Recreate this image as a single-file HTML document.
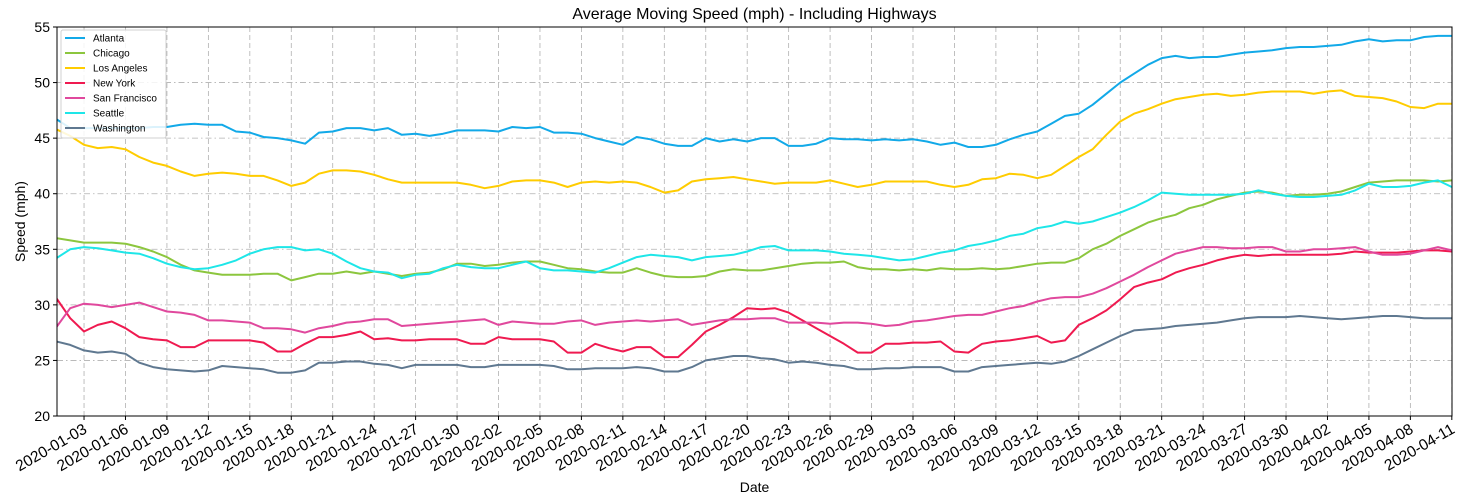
<!DOCTYPE html>
<html><head><meta charset="utf-8"><style>
body{margin:0;background:#fff;}
svg{display:block;font-family:"Liberation Sans","DejaVu Sans",sans-serif;}
</style></head><body>
<svg id="s" width="1458" height="501" xmlns="http://www.w3.org/2000/svg"></svg>
<script>
const D={
"Atlanta":["#12a9e8",[46.7,45.9,45.9,45.9,45.9,45.9,45.9,46.0,46.0,46.2,46.3,46.2,46.2,45.6,45.5,45.1,45.0,44.8,44.5,45.5,45.6,45.9,45.9,45.7,45.9,45.3,45.4,45.2,45.4,45.7,45.7,45.7,45.6,46.0,45.9,46.0,45.5,45.5,45.4,45.0,44.7,44.4,45.1,44.9,44.5,44.3,44.3,45.0,44.7,44.9,44.7,45.0,45.0,44.3,44.3,44.5,45.0,44.9,44.9,44.8,44.9,44.8,44.9,44.7,44.4,44.6,44.2,44.2,44.4,44.9,45.3,45.6,46.3,47.0,47.2,48.0,49.0,50.0,50.8,51.6,52.2,52.4,52.2,52.3,52.3,52.5,52.7,52.8,52.9,53.1,53.2,53.2,53.3,53.4,53.7,53.9,53.7,53.8,53.8,54.1,54.2,54.2,54.0]],
"Chicago":["#8cc63e",[36.0,35.8,35.6,35.6,35.6,35.5,35.2,34.8,34.3,33.6,33.1,32.9,32.7,32.7,32.7,32.8,32.8,32.2,32.5,32.8,32.8,33.0,32.8,33.0,32.8,32.6,32.8,32.9,33.2,33.7,33.7,33.5,33.6,33.8,33.9,33.9,33.6,33.3,33.2,33.0,32.9,32.9,33.3,32.9,32.6,32.5,32.5,32.6,33.0,33.2,33.1,33.1,33.3,33.5,33.7,33.8,33.8,33.9,33.4,33.2,33.2,33.1,33.2,33.1,33.3,33.2,33.2,33.3,33.2,33.3,33.5,33.7,33.8,33.8,34.2,35.0,35.5,36.2,36.8,37.4,37.8,38.1,38.7,39.0,39.5,39.8,40.1,40.2,40.1,39.8,39.9,39.9,40.0,40.2,40.6,41.0,41.1,41.2,41.2,41.2,41.1,41.2]],
"Los Angeles":["#ffcc00",[45.8,45.2,44.4,44.1,44.2,44.0,43.3,42.8,42.5,42.0,41.6,41.8,41.9,41.8,41.6,41.6,41.2,40.7,41.0,41.8,42.1,42.1,42.0,41.7,41.3,41.0,41.0,41.0,41.0,41.0,40.8,40.5,40.7,41.1,41.2,41.2,41.0,40.6,41.0,41.1,41.0,41.1,41.0,40.6,40.1,40.3,41.1,41.3,41.4,41.5,41.3,41.1,40.9,41.0,41.0,41.0,41.2,40.9,40.6,40.8,41.1,41.1,41.1,41.1,40.8,40.6,40.8,41.3,41.4,41.8,41.7,41.4,41.7,42.5,43.3,44.0,45.3,46.5,47.2,47.6,48.1,48.5,48.7,48.9,49.0,48.8,48.9,49.1,49.2,49.2,49.2,49.0,49.2,49.3,48.8,48.7,48.6,48.3,47.8,47.7,48.1,48.1].slice(0,102)],
"New York":["#ef1a50",[30.6,28.8,27.6,28.2,28.5,27.9,27.1,26.9,26.8,26.2,26.2,26.8,26.8,26.8,26.8,26.6,25.8,25.8,26.5,27.1,27.1,27.3,27.6,26.9,27.0,26.8,26.8,26.9,26.9,26.9,26.5,26.5,27.1,26.9,26.9,26.9,26.7,25.7,25.7,26.5,26.1,25.8,26.2,26.2,25.3,25.3,26.4,27.6,28.2,28.9,29.7,29.6,29.7,29.3,28.6,27.9,27.2,26.5,25.7,25.7,26.5,26.5,26.6,26.6,26.7,25.8,25.7,26.5,26.7,26.8,27.0,27.2,26.6,26.8,28.2,28.8,29.5,30.5,31.6,32.0,32.3,32.9,33.3,33.6,34.0,34.3,34.5,34.4,34.5,34.5,34.5,34.5,34.5,34.6,34.8,34.7,34.7,34.7,34.8,34.9,34.9,34.8]],
"San Francisco":["#e0489d",[28.0,29.7,30.1,30.0,29.8,30.0,30.2,29.8,29.4,29.3,29.1,28.6,28.6,28.5,28.4,27.9,27.9,27.8,27.5,27.9,28.1,28.4,28.5,28.7,28.7,28.1,28.2,28.3,28.4,28.5,28.6,28.7,28.2,28.5,28.4,28.3,28.3,28.5,28.6,28.2,28.4,28.5,28.6,28.5,28.6,28.7,28.2,28.4,28.6,28.7,28.7,28.8,28.8,28.4,28.4,28.4,28.3,28.4,28.4,28.3,28.1,28.2,28.5,28.6,28.8,29.0,29.1,29.1,29.4,29.7,29.9,30.3,30.6,30.7,30.7,31.0,31.5,32.1,32.7,33.4,34.0,34.6,34.9,35.2,35.2,35.1,35.1,35.2,35.2,34.8,34.8,35.0,35.0,35.1,35.2,34.8,34.5,34.5,34.6,34.9,35.2,34.9]],
"Seattle":["#1ee6e8",[34.2,35.0,35.2,35.1,34.9,34.7,34.6,34.2,33.7,33.4,33.2,33.3,33.6,34.0,34.6,35.0,35.2,35.2,34.9,35.0,34.6,33.9,33.3,33.0,32.9,32.4,32.7,32.8,33.3,33.6,33.4,33.3,33.3,33.6,33.9,33.3,33.1,33.1,33.0,32.9,33.3,33.8,34.3,34.5,34.4,34.3,34.0,34.3,34.4,34.5,34.8,35.2,35.3,34.9,34.9,34.9,34.8,34.6,34.5,34.4,34.2,34.0,34.1,34.4,34.7,34.9,35.3,35.5,35.8,36.2,36.4,36.9,37.1,37.5,37.3,37.5,37.9,38.3,38.8,39.4,40.1,40.0,39.9,39.9,39.9,39.9,40.0,40.3,40.0,39.8,39.7,39.7,39.8,39.9,40.3,40.9,40.6,40.6,40.7,41.0,41.2,40.6]],
"Washington":["#5f7890",[26.7,26.4,25.9,25.7,25.8,25.6,24.8,24.4,24.2,24.1,24.0,24.1,24.5,24.4,24.3,24.2,23.9,23.9,24.1,24.8,24.8,24.9,24.9,24.7,24.6,24.3,24.6,24.6,24.6,24.6,24.4,24.4,24.6,24.6,24.6,24.6,24.5,24.2,24.2,24.3,24.3,24.3,24.4,24.3,24.0,24.0,24.4,25.0,25.2,25.4,25.4,25.2,25.1,24.8,24.9,24.8,24.6,24.5,24.2,24.2,24.3,24.3,24.4,24.4,24.4,24.0,24.0,24.4,24.5,24.6,24.7,24.8,24.7,24.9,25.4,26.0,26.6,27.2,27.7,27.8,27.9,28.1,28.2,28.3,28.4,28.6,28.8,28.9,28.9,28.9,29.0,28.9,28.8,28.7,28.8,28.9,29.0,29.0,28.9,28.8,28.8,28.8]]
};
const L=57,R=1452,T=27,B=416,X0=56.4,DX=13.816;
const Y=v=>T+(55-v)*(B-T)/35, X=i=>X0+DX*i;
let h='';
h+=`<defs><clipPath id="c"><rect x="${L}" y="${T}" width="${R-L}" height="${B-T}"/></clipPath></defs>`;
for(let v=20;v<=55;v+=5){const y=Y(v);h+=`<line x1="${L}" x2="${R}" y1="${y}" y2="${y}" stroke="#b0b0b0" stroke-width="0.8" stroke-dasharray="6,3,1.5,3"/>`;
h+=`<line x1="${L-4}" x2="${L}" y1="${y}" y2="${y}" stroke="#000"/><text x="${L-7}" y="${y+5}" font-size="14" text-anchor="end">${v}</text>`;}
const months=[31,29,31,30];
function lab(i){let d=i+1,m=0;while(d>months[m]){d-=months[m];m++;}return `2020-${String(m+1).padStart(2,'0')}-${String(d).padStart(2,'0')}`;}
for(let i=2;i<=101;i+=3){const x=X(i);h+=`<line x1="${x}" x2="${x}" y1="${B}" y2="${B+4}" stroke="#000"/><line x1="${x}" x2="${x}" y1="${T}" y2="${B}" stroke="#b0b0b0" stroke-width="0.8" stroke-dasharray="5,3"/>`;
h+=`<text transform="translate(${x+4},${B+16}) rotate(-30)" font-size="15.5" text-anchor="end">${lab(i)}</text>`;}
h+=`<g clip-path="url(#c)">`;
for(const k in D){const [c,a]=D[k];h+=`<polyline fill="none" stroke="${c}" stroke-width="2" stroke-linejoin="round" points="${a.map((v,i)=>X(i).toFixed(1)+','+Y(v).toFixed(1)).join(' ')}"/>`;}
h+=`</g><rect x="${L}" y="${T}" width="${R-L}" height="${B-T}" fill="none" stroke="#000" stroke-width="1"/>`;
h+=`<text x="${(L+R)/2}" y="19" font-size="16" text-anchor="middle">Average Moving Speed (mph) - Including Highways</text>`;
h+=`<text x="${(L+R)/2}" y="492" font-size="14" text-anchor="middle">Date</text>`;
h+=`<text transform="translate(25,${(T+B)/2}) rotate(-90)" font-size="14" text-anchor="middle">Speed (mph)</text>`;
h+=`<rect x="61" y="30" width="105" height="108" rx="2" fill="#fff" fill-opacity="0.85" stroke="#d0d0d0"/>`;
let j=0;for(const k in D){const y=38+j*15;h+=`<line x1="65" x2="85" y1="${y}" y2="${y}" stroke="${D[k][0]}" stroke-width="2"/><text x="93" y="${y+3.5}" font-size="10">${k}</text>`;j++;}
document.getElementById('s').innerHTML=h;
</script>
</body></html>
